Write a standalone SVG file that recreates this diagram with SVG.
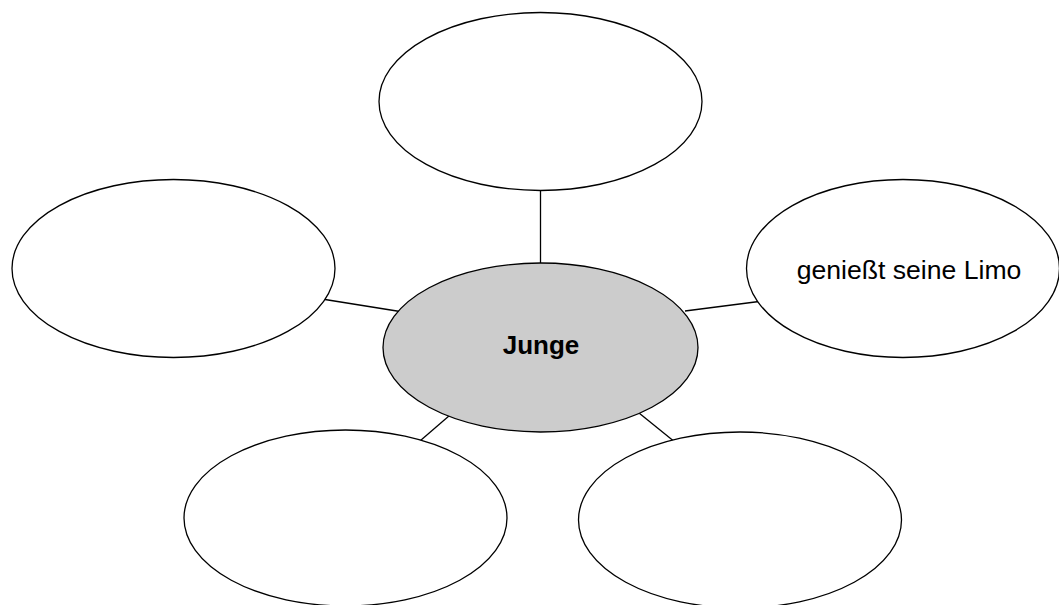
<svg xmlns="http://www.w3.org/2000/svg" width="1059" height="605" viewBox="0 0 1059 605">
  <style>
    .node { fill: #ffffff; stroke: #000000; stroke-width: 1.3; }
    .center { fill: #cccccc; stroke: #000000; stroke-width: 1.3; }
    .conn line { stroke: #000000; stroke-width: 1.3; }
    .label { font-family: "Liberation Sans", Arial, sans-serif; fill: #000000; text-anchor: middle; }
  </style>
  <rect x="0" y="0" width="1059" height="605" fill="#ffffff"/>
  <g id="connectors" class="conn">
    <line x1="540.5" y1="190.5" x2="540.5" y2="263.5"/>
    <line x1="325" y1="299.5" x2="400" y2="311.5"/>
    <line x1="685" y1="311" x2="759" y2="301.5"/>
    <line x1="449.5" y1="415.5" x2="420.5" y2="440.5"/>
    <line x1="639" y1="413" x2="673" y2="440.5"/>
  </g>
  <g id="node-top">
    <ellipse class="node" cx="540.5" cy="101.5" rx="161.5" ry="89"/>
  </g>
  <g id="node-left">
    <ellipse class="node" cx="173.5" cy="268.5" rx="161.5" ry="89"/>
  </g>
  <g id="node-right">
    <ellipse class="node" cx="903" cy="268.5" rx="156.5" ry="89"/>
    <text class="label" x="909" y="279" font-size="26.6">genießt seine Limo</text>
  </g>
  <g id="node-bottom-left">
    <ellipse class="node" cx="345.5" cy="518" rx="161.5" ry="88"/>
  </g>
  <g id="node-bottom-right">
    <ellipse class="node" cx="740" cy="520" rx="161.5" ry="88"/>
  </g>
  <g id="node-center">
    <ellipse class="center" cx="540.5" cy="347.5" rx="157.5" ry="84.5"/>
    <text class="label" x="541" y="354" font-size="26" font-weight="bold">Junge</text>
  </g>
</svg>
